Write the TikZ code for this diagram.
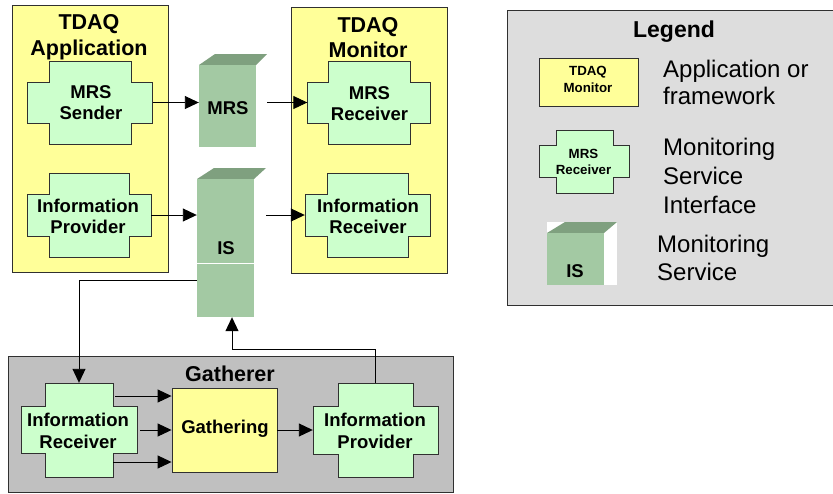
\documentclass[tikz,border=0pt]{standalone}
\usepackage{fontspec}
\setmainfont{Liberation Sans}
\usetikzlibrary{arrows.meta,calc}
\definecolor{appyel}{HTML}{FFFF99}
\definecolor{crossgreen}{HTML}{CCFFCC}
\definecolor{svcfront}{HTML}{A3C9A3}
\definecolor{svctop}{HTML}{7FA07F}
\definecolor{gathgray}{HTML}{C0C0C0}
\definecolor{leggray}{HTML}{DDDDDD}
\definecolor{edgegray}{HTML}{303030}
\newcommand\mycross[7]{%
 \draw[crossbox] (#2-#6,#3-#7) -- ++({2*#6},0) -- ++(0,{#7-#5}) -- ++({#4-#6},0) -- ++(0,{2*#5}) -- ++({#6-#4},0) -- ++(0,{#7-#5}) -- ++({-2*#6},0) -- ++(0,{#5-#7}) -- ++({#6-#4},0) -- ++(0,{-2*#5}) -- ++({#4-#6},0) -- cycle;
 \node[inner sep=0, minimum width={2*#4*1pt}, minimum height={2*#5*1pt}] (#1) at (#2,#3) {};
 \node[inner sep=0, minimum width={2*#6*1pt}, minimum height={2*#7*1pt}] (#1v) at (#2,#3) {};
}
\newcommand\mysvc[7]{%
 \fill[svctop] (#2,#3) -- (#2+#6+5,#3-#7) -- (#4+#6,#3-#7) -- (#4,#3) -- cycle;
 \node[fill=svcfront, inner sep=0, minimum width={(#4-#2)*1pt}, minimum height={(#5-#3)*1pt}] (#1) at ({(#2+#4)/2},{(#3+#5)/2}) {};
}
\newcommand\myrect[6]{%
 \node[#2, inner sep=0, minimum width={(#5-#3)*1pt}, minimum height={(#6-#4)*1pt}] (#1) at ({(#3+#5)/2},{(#4+#6)/2}) {};
}
\begin{document}
\begin{tikzpicture}[x=1pt,y=-1pt,
  yelbox/.style={draw=edgegray, fill=appyel, line width=0.9pt},
  crossbox/.style={draw=edgegray, fill=crossgreen, line width=0.9pt},
  legbox/.style={draw=edgegray, fill=leggray, line width=0.9pt},
  gathbox/.style={draw=edgegray, fill=gathgray, line width=0.9pt},
  arr/.style={draw=black, line width=0.9pt, -{Triangle[length=14pt,width=13pt]}},
  ttl/.style={anchor=base, inner sep=0, font=\fontsize{21.5}{26}\bfseries\selectfont},
  lbl/.style={anchor=base, inner sep=0, font=\fontsize{18.5}{22}\bfseries\selectfont},
  sml/.style={anchor=base, inner sep=0, font=\fontsize{13.3}{16}\bfseries\selectfont},
  desc/.style={anchor=base west, inner sep=0, font=\fontsize{24}{29}\selectfont}]
\useasboundingbox (0,0) rectangle (833,493);
% legend
\myrect{legend}{legbox}{507}{10}{836}{305}
\node[ttl, font=\fontsize{23}{27}\bfseries\selectfont] (legt) at (674,37) {Legend};
\myrect{legapp}{yelbox}{539}{58}{638}{106}
\node[sml] (legapp1) at (588,75) {TDAQ};
\node[sml] (legapp2) at (588,92) {Monitor};
\node[desc] (legd1) at (663,77) {Application or};
\node[desc] (legd2) at (663,104) {framework};
\mycross{legcross}{584.5}{161.5}{45}{16}{28.5}{31.5}
\node[sml] (legc1) at (583.5,158) {MRS};
\node[sml] (legc2) at (583.5,174) {Receiver};
\node[desc] (legd3) at (663,155) {Monitoring};
\node[desc] (legd4) at (663,184) {Service};
\node[desc] (legd5) at (663,213) {Interface};
\fill[white] (547,222) rectangle (617,285);
\mysvc{legsvc}{547}{233}{604}{285}{13}{11}
\node[lbl] (legs1) at (575,277) {IS};
\node[desc] (legd6) at (657,252) {Monitoring};
\node[desc] (legd7) at (657,280) {Service};
% gatherer
\myrect{gath}{gathbox}{8}{356}{453}{492}
\node[ttl] (gatht) at (230,381) {Gatherer};
% yellow application boxes
\myrect{app}{yelbox}{12}{5}{168}{272}
\node[ttl] (appt1) at (89,29) {TDAQ};
\node[ttl] (appt2) at (89,55) {Application};
\myrect{mon}{yelbox}{291}{7}{447}{273}
\node[ttl] (mont1) at (368,32) {TDAQ};
\node[ttl] (mont2) at (368,57) {Monitor};
% crosses
\mycross{mrssend}{90}{102.5}{62.5}{20.5}{41}{41.5}
\node[lbl] (mrssend1) at (91,98) {MRS};
\node[lbl] (mrssend2) at (91,119) {Sender};
\mycross{infoprov}{89}{215}{62}{21}{40}{42}
\node[lbl] (infoprov1) at (88,212) {Information};
\node[lbl] (infoprov2) at (88,233) {Provider};
\mycross{mrsrecv}{369}{102.5}{61.5}{20.5}{41}{41.5}
\node[lbl] (mrsrecv1) at (369.5,99) {MRS};
\node[lbl] (mrsrecv2) at (369.5,120) {Receiver};
\mycross{inforecv}{367.5}{215}{62.5}{21}{40.5}{42}
\node[lbl] (inforecv1) at (368,212) {Information};
\node[lbl] (inforecv2) at (368,233) {Receiver};
\mycross{grecv}{79}{430}{58}{23.5}{34}{47}
\node[lbl] (grecv1) at (78,426) {Information};
\node[lbl] (grecv2) at (78,448) {Receiver};
\mycross{gprov}{375.5}{430}{62.5}{24}{37.5}{47}
\node[lbl] (gprov1) at (375,426) {Information};
\node[lbl] (gprov2) at (375,448) {Provider};
\myrect{gathering}{yelbox}{172}{388}{277}{472}
\node[lbl] (gathering1) at (225,433) {Gathering};
% services
\mysvc{mrs}{199}{65}{256}{147}{11}{11}
\node[lbl] (mrs1) at (228,114) {MRS};
\mysvc{is}{197}{179}{254}{317}{12}{11}
\draw[white, line width=1pt] (is.west |- 0,263) -- (is.east |- 0,263);
\node[lbl] (is1) at (226,254) {IS};
% connectors
\draw[arr] (mrssend.east) -- (mrssend.east -| mrs.west);
\draw[arr] ([xshift=11pt]mrs.east |- mrsrecv.west) -- (mrsrecv.west);
\draw[arr] (infoprov.east) -- (infoprov.east -| is.west);
\draw[arr] ([xshift=12pt]is.east |- inforecv.west) -- (inforecv.west);
\draw[arr] ([yshift=-32pt]is.west) -| (grecvv.north);
\draw[arr] (gprovv.north) -- ++(0,-33) -| ([xshift=6.5pt]is.south);
\draw[arr] ([shift={(2,-34)}]grecvv.east) -- ([yshift=34pt]gathering.west);
\draw[arr] ([xshift=3pt]grecv.east) -- (gathering.west);
\draw[arr] ([shift={(0,32)}]grecvv.east) -- ([yshift=-32pt]gathering.west);
\draw[arr] (gathering.east) -- (gprov.west);
\end{tikzpicture}
\end{document}
